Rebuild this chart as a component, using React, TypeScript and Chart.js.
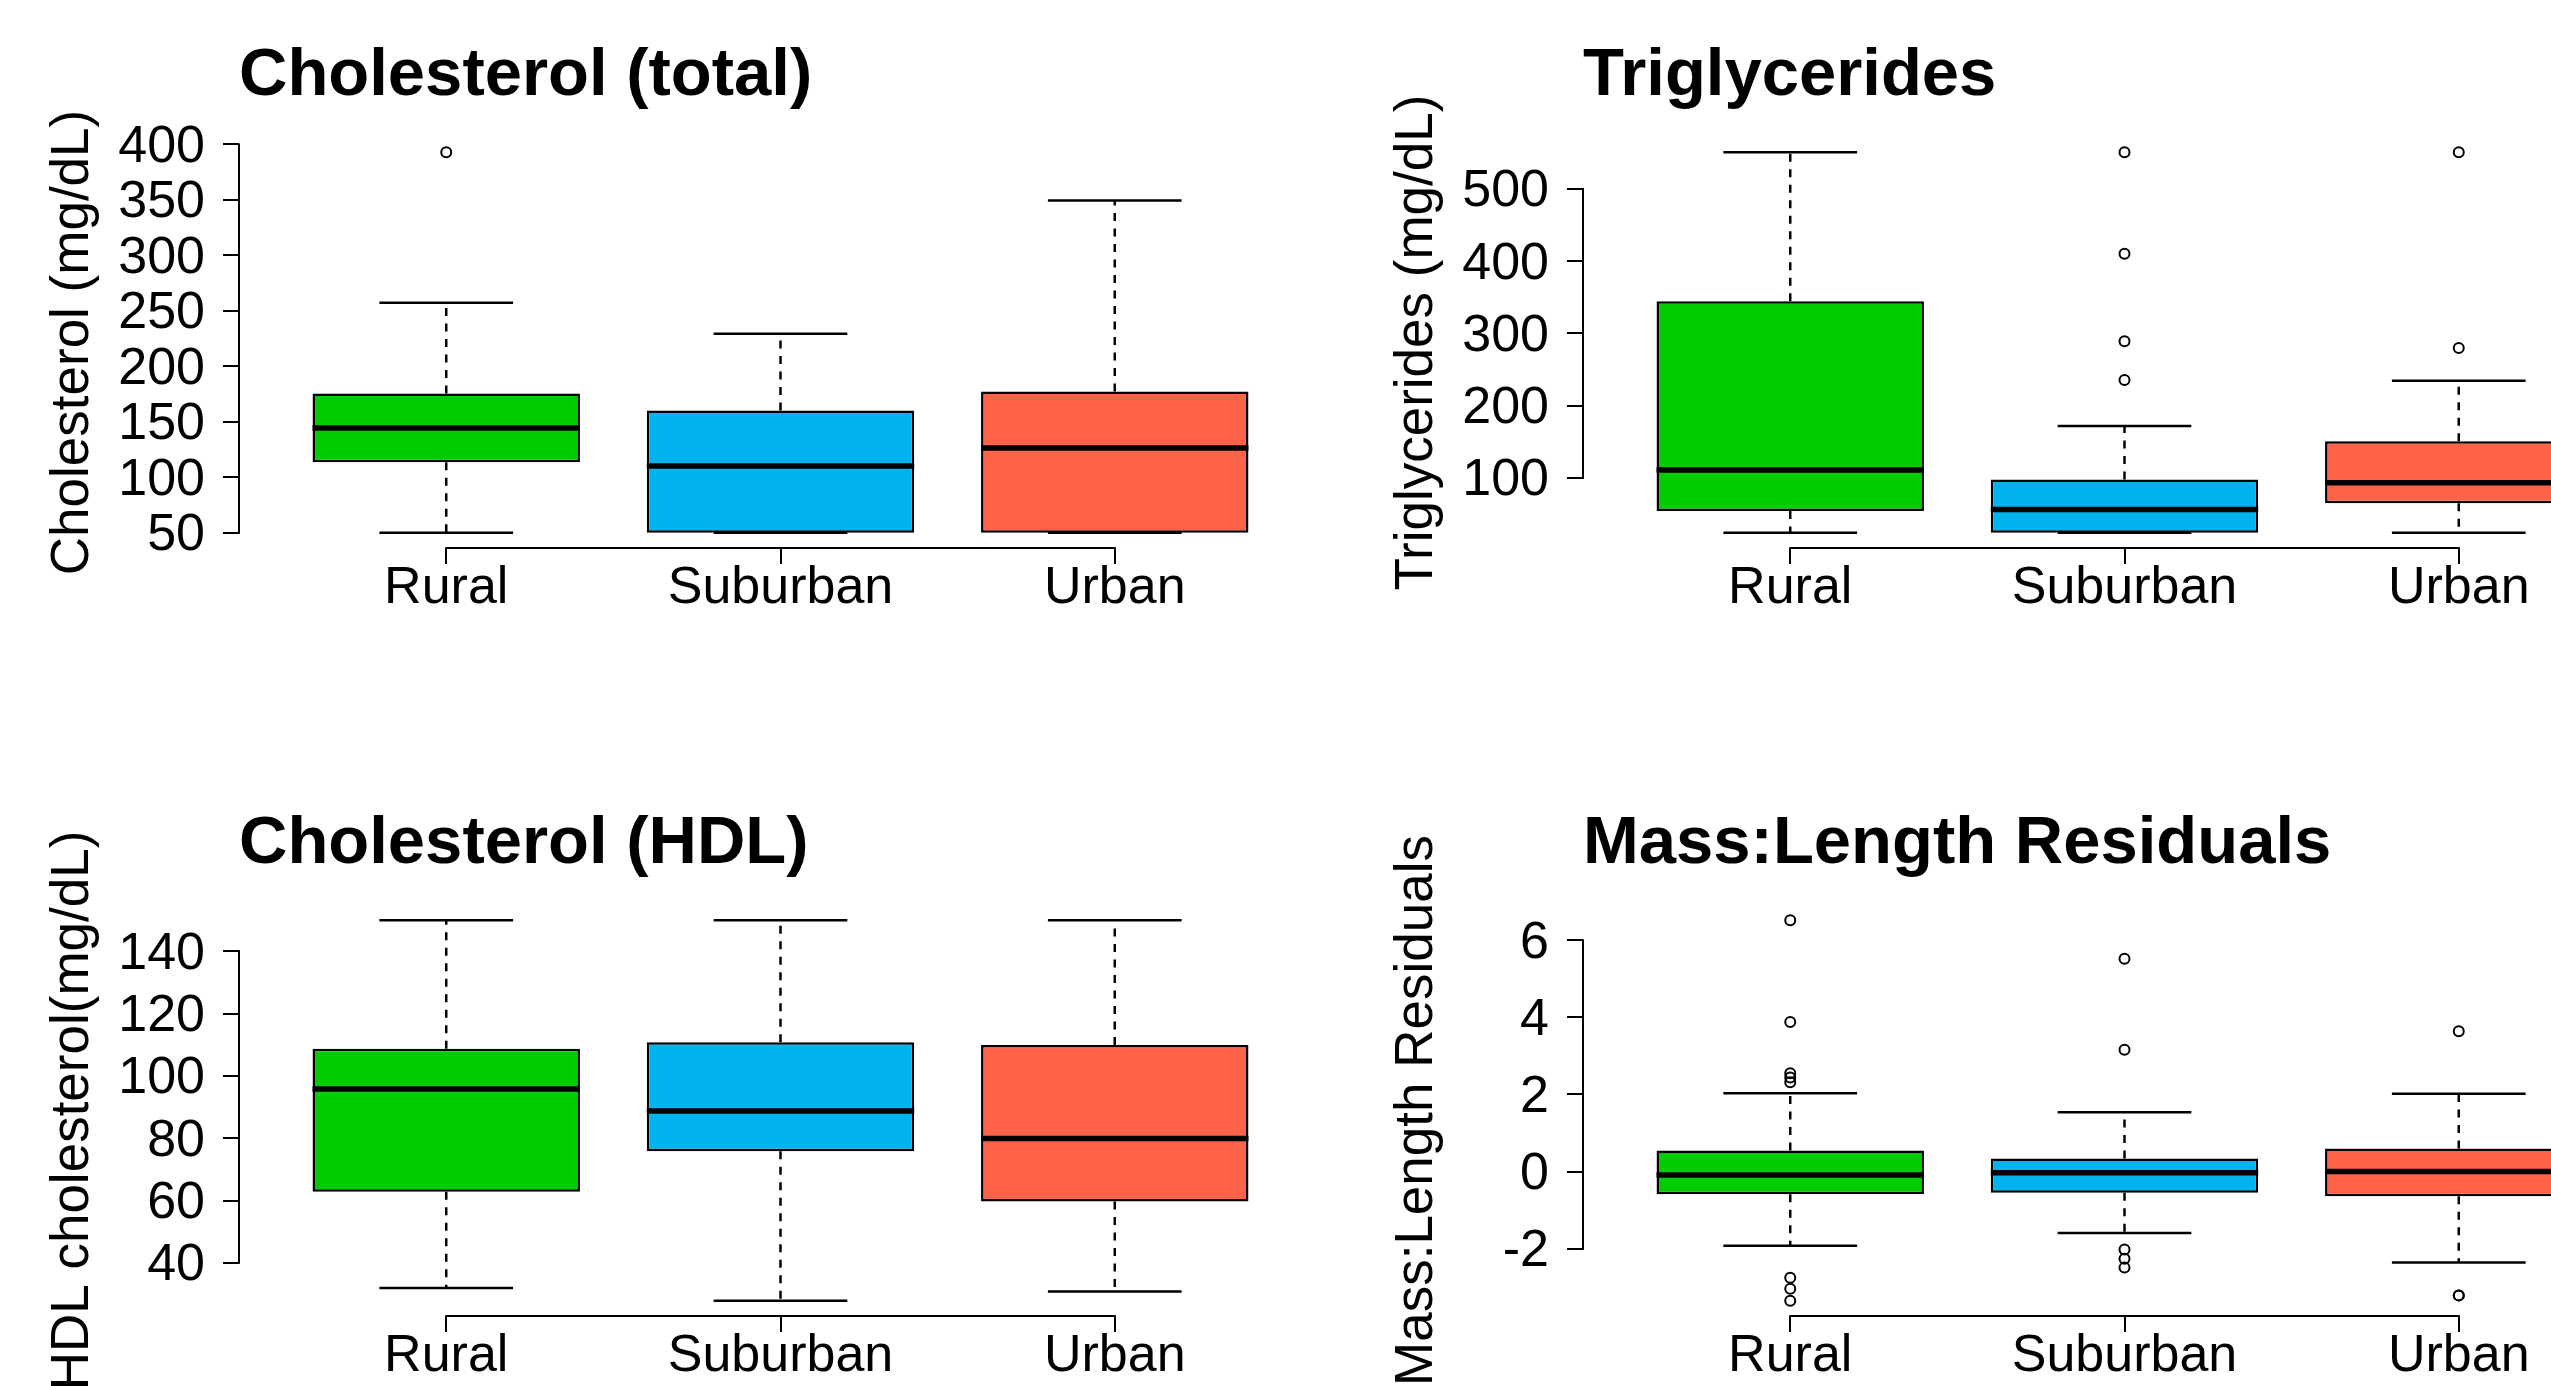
import React, { useEffect, useRef } from 'react';
import { Chart, registerables } from 'chart.js';

Chart.register(...registerables);

// ---------- shared ----------
const CATEGORIES = ['Rural', 'Suburban', 'Urban'];
const BOX_COLORS = ['#00CD00', '#00B2EE', '#FF6347'];
const FONT = "'Liberation Sans', Arial, Helvetica, sans-serif";

// ---------- Cholesterol (total) ----------
const CHOL_TITLE = 'Cholesterol (total)';
const CHOL_YLABEL = 'Cholesterol (mg/dL)';
const CHOL_TICKS = [50, 100, 150, 200, 250, 300, 350, 400];
const CHOL_LOW = [50, 50, 50];
const CHOL_Q1 = [113.5, 50, 50];
const CHOL_MEDIAN = [144.5, 110.3, 126.3];
const CHOL_Q3 = [175.5, 160.2, 177.3];
const CHOL_HIGH = [257.3, 229.3, 349.4];
const CHOL_OUTLIERS = [[393], [], []];

// ---------- Triglycerides ----------
const TRIG_TITLE = 'Triglycerides';
const TRIG_YLABEL = 'Triglycerides (mg/dL)';
const TRIG_TICKS = [100, 200, 300, 400, 500];
const TRIG_LOW = [24, 24, 24];
const TRIG_Q1 = [54, 24, 65];
const TRIG_MEDIAN = [110.9, 56.2, 93.4];
const TRIG_Q3 = [344.5, 97.8, 150.9];
const TRIG_HIGH = [551, 171.7, 234.6];
const TRIG_OUTLIERS = [[], [551, 410.3, 289.3, 235.7], [551, 280]];

// ---------- Cholesterol (HDL) ----------
const HDL_TITLE = 'Cholesterol (HDL)';
const HDL_YLABEL = 'HDL cholesterol(mg/dL)';
const HDL_TICKS = [40, 60, 80, 100, 120, 140];
const HDL_LOW = [31.9, 27.8, 30.8];
const HDL_Q1 = [62.8, 75.8, 59.7];
const HDL_MEDIAN = [95.8, 88.7, 79.9];
const HDL_Q3 = [108.7, 110.8, 109.9];
const HDL_HIGH = [150, 150, 150];
const HDL_OUTLIERS = [[], [], []];

// ---------- Mass:Length Residuals ----------
const RES_TITLE = 'Mass:Length Residuals';
const RES_YLABEL = 'Mass:Length Residuals';
const RES_TICKS = [-2, 0, 2, 4, 6];
const RES_LOW = [-1.92, -1.59, -2.36];
const RES_Q1 = [-0.59, -0.55, -0.64];
const RES_MEDIAN = [-0.09, -0.03, 0.0];
const RES_Q3 = [0.545, 0.34, 0.6];
const RES_HIGH = [2.03, 1.54, 2.02];
const RES_OUTLIERS = [
  [6.52, 3.88, 2.55, 2.44, 2.32, -2.75, -3.04, -3.35],
  [5.52, 3.16, -2.02, -2.26, -2.49],
  [3.64, -3.21, -3.21],
];

type Panel = {
  title: string;
  yLabel: string;
  ticks: number[];
  low: number[];
  q1: number[];
  median: number[];
  q3: number[];
  high: number[];
  outliers: number[][];
  left: number;
  top: number;
};

const PANELS: Panel[] = [
  { title: CHOL_TITLE, yLabel: CHOL_YLABEL, ticks: CHOL_TICKS, low: CHOL_LOW, q1: CHOL_Q1, median: CHOL_MEDIAN, q3: CHOL_Q3, high: CHOL_HIGH, outliers: CHOL_OUTLIERS, left: 0, top: 0 },
  { title: TRIG_TITLE, yLabel: TRIG_YLABEL, ticks: TRIG_TICKS, low: TRIG_LOW, q1: TRIG_Q1, median: TRIG_MEDIAN, q3: TRIG_Q3, high: TRIG_HIGH, outliers: TRIG_OUTLIERS, left: 1344, top: 0 },
  { title: HDL_TITLE, yLabel: HDL_YLABEL, ticks: HDL_TICKS, low: HDL_LOW, q1: HDL_Q1, median: HDL_MEDIAN, q3: HDL_Q3, high: HDL_HIGH, outliers: HDL_OUTLIERS, left: 0, top: 768 },
  { title: RES_TITLE, yLabel: RES_YLABEL, ticks: RES_TICKS, low: RES_LOW, q1: RES_Q1, median: RES_MEDIAN, q3: RES_Q3, high: RES_HIGH, outliers: RES_OUTLIERS, left: 1344, top: 768 },
];

const PANEL_W = 1344;
const PANEL_H = 768;

// draws R-style axis lines that run only from first to last tick
const rAxisLines = {
  id: 'rAxisLines',
  afterDatasetsDraw(chart: any) {
    const { ctx, chartArea } = chart;
    const x = chart.scales.x;
    const y = chart.scales.y;
    const yp = y.ticks.map((t: any) => y.getPixelForValue(t.value));
    const xp = x.ticks.map((t: any) => x.getPixelForValue(t.value));
    ctx.save();
    ctx.strokeStyle = '#000';
    ctx.lineWidth = 2;
    ctx.beginPath();
    ctx.moveTo(chartArea.left, Math.min(...yp) - 1);
    ctx.lineTo(chartArea.left, Math.max(...yp) + 1);
    ctx.moveTo(Math.min(...xp) - 1, chartArea.bottom);
    ctx.lineTo(Math.max(...xp) + 1, chartArea.bottom);
    ctx.stroke();
    ctx.restore();
  },
};

function buildConfig(p: Panel): any {
  const xs = CATEGORIES.map((_, i) => i + 1);
  const boxHalf = 0.4;
  const capHalf = 0.2;
  const all = [...p.low, ...p.high, ...p.q1, ...p.q3, ...p.outliers.flat()];
  const lo = Math.min(...all);
  const hi = Math.max(...all);
  const pad = (hi - lo) * 0.04;
  const xPad = xs.length * 0.04;

  const medianData: any[] = [];
  const whiskerData: any[] = [];
  const capData: any[] = [];
  const outlierData: any[] = [];
  xs.forEach((x, i) => {
    medianData.push({ x: x - boxHalf, y: p.median[i] }, { x: x + boxHalf, y: p.median[i] }, { x, y: null });
    whiskerData.push(
      { x, y: p.q3[i] }, { x, y: p.high[i] }, { x, y: null },
      { x, y: p.q1[i] }, { x, y: p.low[i] }, { x, y: null },
    );
    capData.push(
      { x: x - capHalf, y: p.high[i] }, { x: x + capHalf, y: p.high[i] }, { x, y: null },
      { x: x - capHalf, y: p.low[i] }, { x: x + capHalf, y: p.low[i] }, { x, y: null },
    );
    p.outliers[i].forEach((v) => outlierData.push({ x, y: v }));
  });

  const tickGrid = {
    display: true,
    drawOnChartArea: false,
    drawTicks: true,
    tickLength: 16,
    color: '#000',
    lineWidth: 2,
    offset: false,
  };

  return {
    type: 'line',
    data: {
      datasets: [
        {
          type: 'line',
          data: medianData,
          borderColor: '#000',
          borderWidth: 5.5,
          borderCapStyle: 'butt',
          pointRadius: 0,
          pointHoverRadius: 0,
          spanGaps: false,
        },
        {
          type: 'bar',
          data: xs.map((x, i) => ({ x, y: [p.q1[i], p.q3[i]] })),
          backgroundColor: BOX_COLORS,
          borderColor: '#000',
          borderWidth: 2.5,
          borderSkipped: false,
          barPercentage: 0.8,
          categoryPercentage: 1,
        },
        {
          type: 'line',
          data: whiskerData,
          borderColor: '#000',
          borderWidth: 2.5,
          borderDash: [8, 7.5],
          borderCapStyle: 'butt',
          pointRadius: 0,
          pointHoverRadius: 0,
          spanGaps: false,
        },
        {
          type: 'line',
          data: capData,
          borderColor: '#000',
          borderWidth: 2.5,
          borderCapStyle: 'butt',
          pointRadius: 0,
          pointHoverRadius: 0,
          spanGaps: false,
        },
        {
          type: 'line',
          data: outlierData,
          showLine: false,
          pointStyle: 'circle',
          pointRadius: 5,
          pointHoverRadius: 5,
          pointBorderWidth: 2,
          pointBorderColor: '#000',
          pointBackgroundColor: 'rgba(0,0,0,0)',
        },
      ],
    },
    options: {
      responsive: false,
      animation: false,
      devicePixelRatio: 1,
      events: [],
      layout: { padding: { left: 0, right: 22, top: 0, bottom: 0 } },
      plugins: {
        legend: { display: false },
        tooltip: { enabled: false },
        title: {
          display: true,
          text: p.title,
          align: 'start',
          fullSize: false,
          color: '#000',
          font: { family: FONT, size: 67, weight: 'bold', lineHeight: 1.2 },
          padding: { top: 36, bottom: 20.6 },
        },
      },
      scales: {
        x: {
          type: 'linear',
          min: 1 - 0.5 - xPad,
          max: xs.length + 0.5 + xPad,
          offset: false,
          bounds: 'data',
          afterBuildTicks: (s: any) => {
            s.ticks = xs.map((v) => ({ value: v }));
          },
          afterFit: (s: any) => {
            s.height = 220;
          },
          grid: tickGrid,
          border: { display: false },
          ticks: {
            color: '#000',
            autoSkip: false,
            maxRotation: 0,
            minRotation: 0,
            padding: -1,
            font: { family: FONT, size: 52, lineHeight: 1 },
            callback: (v: any) => CATEGORIES[Math.round(Number(v)) - 1] ?? '',
          },
        },
        y: {
          type: 'linear',
          min: lo - pad,
          max: hi + pad,
          bounds: 'data',
          afterBuildTicks: (s: any) => {
            s.ticks = p.ticks.map((v) => ({ value: v }));
          },
          afterFit: (s: any) => {
            s.width = 239;
          },
          grid: tickGrid,
          border: { display: false },
          ticks: {
            color: '#000',
            autoSkip: false,
            padding: 18,
            labelOffset: 3,
            font: { family: FONT, size: 52, lineHeight: 1 },
            callback: (v: any) => String(v),
          },
          title: {
            display: true,
            text: p.yLabel,
            color: '#000',
            font: { family: FONT, size: 53, lineHeight: 1.2 },
            padding: { top: 41.7, bottom: 0 },
          },
        },
      },
    },
    plugins: [rAxisLines],
  };
}

function BoxPanel({ panel }: { panel: Panel }) {
  const ref = useRef<HTMLCanvasElement | null>(null);
  useEffect(() => {
    if (!ref.current) return;
    const chart = new Chart(ref.current, buildConfig(panel));
    return () => chart.destroy();
  }, [panel]);
  return (
    <canvas
      ref={ref}
      width={PANEL_W}
      height={PANEL_H}
      style={{ position: 'absolute', left: panel.left, top: panel.top, width: PANEL_W, height: PANEL_H, display: 'block' }}
    />
  );
}

export default function App() {
  return (
    <div
      style={{
        position: 'absolute',
        left: 0,
        top: 0,
        width: 2551,
        height: 1386,
        overflow: 'hidden',
        background: '#fff',
      }}
    >
      {PANELS.map((p) => (
        <BoxPanel key={p.title} panel={p} />
      ))}
    </div>
  );
}
